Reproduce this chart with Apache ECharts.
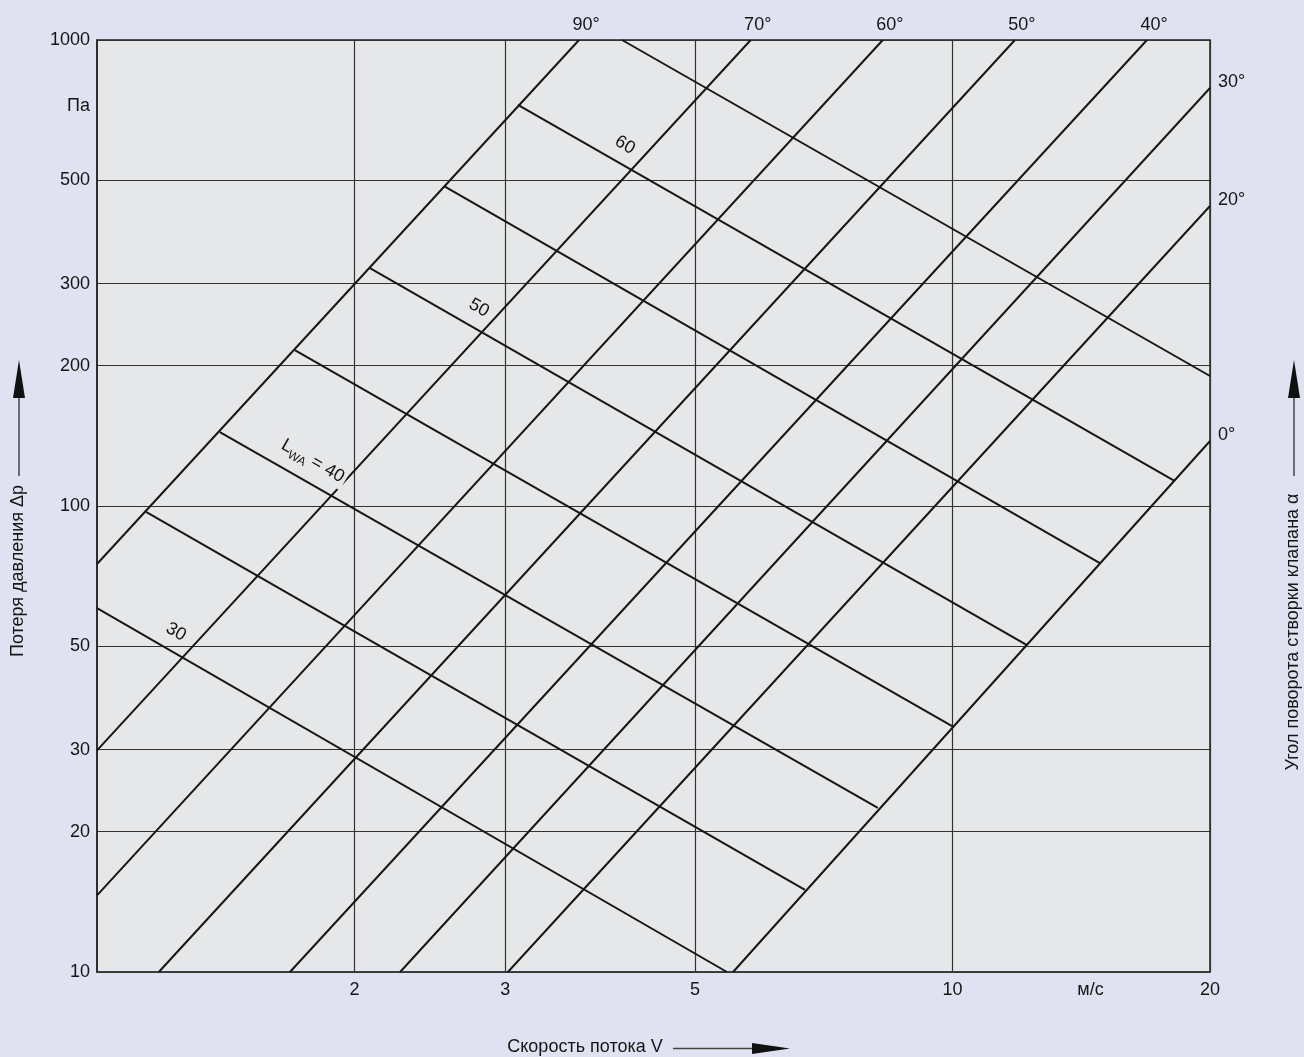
<!DOCTYPE html>
<html>
<head>
<meta charset="utf-8">
<script src="https://cdn.jsdelivr.net/npm/echarts@6/dist/echarts.min.js"></script>
<style>
html,body{margin:0;padding:0;background:#e0e2f1;}
#c{width:1304px;height:1057px;}
</style>
</head>
<body>
<div id="c"></div>
<script>
// ---- axis ticks ----
const xTickValues = [2, 3, 5, 10, 20];
const xUnitValue = 14.5;
const xUnitLabel = 'м/с';
const yTickValues = [10, 20, 30, 50, 100, 200, 300, 500, 1000];
const yUnitValue = 720;
const yUnitLabel = 'Па';

// ---- damper blade angle lines (Δp ~ V²) ----
const angleNames  = ['90°', '70°', '60°', '50°', '40°', '30°', '20°', '0°'];
const angleStartV = [1,     1,     1,     1.181, 1.681, 2.261, 3.022, 5.54];
const angleStartP = [75.1,  29.9,  14.6,  10,    10,    10,    10,    10];
const angleEndV   = [3.66,  5.81,  8.29,  11.83, 16.88, 20,    20,    20];
const angleEndP   = [1000,  1000,  1000,  1000,  1000,  788.9, 440.4, 137.9];

// ---- sound power level lines L_WA ----
const lwaLevels = [30,    35,    40,    45,    50,    55,    60,    65];
const lwaStartV = [1,     1.141, 1.392, 1.703, 2.085, 2.545, 3.105, 4.109];
const lwaStartP = [60.4,  97.1,  144.1, 216.1, 324.1, 486.0, 725.4, 1000];
const lwaEndV   = [5.45,  6.724, 8.18,  9.99,  12.22, 14.87, 18.20, 20];
const lwaEndP   = [10,    15.0,  22.5,  33.7,  50.3,  75.4,  113.1, 190.1];

// ---- L_WA labels ----
const lwaLabelText = ['30', '{l|L}{s|WA}{l| = 40}', '50', '60'];
const lwaLabelV    = [1.237, 1.788, 2.796, 4.142];
const lwaLabelP    = [53.7,  124.9, 266,   595];

const FONT = '"Liberation Sans", Arial, Helvetica, sans-serif';
const TXT = '#151515';
const LINE = '#161616';
const PLOT_BG = '#e6e7e9';

const chart = echarts.init(document.getElementById('c'), null, {renderer: 'canvas'});

const series = [];
angleNames.forEach((n, i) => {
  series.push({
    type: 'line', name: 'a' + n, silent: true, animation: false, z: 3,
    symbol: 'none',
    lineStyle: {color: LINE, width: 2},
    data: [[angleStartV[i], angleStartP[i]], [angleEndV[i], angleEndP[i]]]
  });
});
lwaLevels.forEach((lv, i) => {
  series.push({
    type: 'line', name: 'L' + lv, silent: true, animation: false, z: 3,
    symbol: 'none',
    lineStyle: {color: LINE, width: 2},
    data: [[lwaStartV[i], lwaStartP[i]], [lwaEndV[i], lwaEndP[i]]]
  });
});
// angle labels at line ends
series.push({
  type: 'scatter', silent: true, animation: false, z: 6,
  symbol: 'circle', symbolSize: 0.1, itemStyle: {color: PLOT_BG, opacity: 1},
  data: angleNames.map((n, i) => {
    const onTop = angleEndP[i] >= 1000;
    return {
      value: [angleEndV[i], angleEndP[i]],
      label: onTop
        ? {show: true, formatter: n, position: 'top', distance: 6, offset: [7, 0]}
        : {show: true, formatter: n, position: 'right', distance: 8, offset: [0, -6]}
    };
  }),
  label: {fontFamily: FONT, fontSize: 18, color: TXT, opacity: 1}
});
// L_WA labels
series.push({
  type: 'scatter', silent: true, animation: false, z: 7,
  symbol: 'circle', symbolSize: 0.1, itemStyle: {color: PLOT_BG, opacity: 1},
  data: lwaLabelV.map((v, i) => ({
    value: [v, lwaLabelP[i]],
    label: {
      formatter: lwaLabelText[i],
      backgroundColor: i === 1 ? PLOT_BG : 'transparent',
      padding: i === 1 ? [0, 3, 0, 3] : 0
    }
  })),
  label: {
    show: true, position: 'inside', rotate: -30, opacity: 1,
    fontFamily: FONT, fontSize: 18, color: TXT,
    rich: {
      l: {fontFamily: FONT, fontSize: 18, color: TXT, lineHeight: 24},
      s: {fontFamily: FONT, fontSize: 12, color: TXT, lineHeight: 12, verticalAlign: 'bottom'}
    }
  }
});

const option = {
  backgroundColor: '#e0e2f1',
  animation: false,
  grid: {
    left: 97, top: 40, right: 94, bottom: 85,
    containLabel: false, outerBoundsMode: 'none',
    show: true, backgroundColor: PLOT_BG, borderColor: '#222', borderWidth: 1.5
  },
  xAxis: {
    type: 'log', logBase: 10, min: 1, max: 20,
    axisLine: {show: true, lineStyle: {color: '#3a3a3a', width: 1.5}},
    axisTick: {show: false, customValues: xTickValues},
    splitLine: {show: true, lineStyle: {color: '#333', width: 1.2}},
    axisLabel: {
      customValues: xTickValues.concat([xUnitValue]),
      margin: 9, fontFamily: FONT, fontSize: 18, color: TXT,
      formatter: v => (Math.abs(v - xUnitValue) < 0.5 ? xUnitLabel : String(Math.round(v)))
    }
  },
  yAxis: {
    type: 'log', logBase: 10, min: 10, max: 1000,
    axisLine: {show: true, lineStyle: {color: '#222', width: 1.5}},
    axisTick: {show: false, customValues: yTickValues},
    splitLine: {show: true, lineStyle: {color: '#333', width: 1.2}},
    axisLabel: {
      customValues: yTickValues.concat([yUnitValue]),
      margin: 7, fontFamily: FONT, fontSize: 18, color: TXT,
      formatter: v => (Math.abs(v - yUnitValue) < 5 ? yUnitLabel : String(Math.round(v)))
    }
  },
  graphic: [
    {type: 'text', x: 18, y: 571, rotation: Math.PI / 2,
     style: {text: 'Потеря давления Δp', font: '18px ' + FONT, fill: TXT, align: 'center', verticalAlign: 'middle'}},
    {type: 'line', shape: {x1: 19, y1: 476, x2: 19, y2: 396}, style: {stroke: '#444', lineWidth: 1.5}},
    {type: 'polygon', shape: {points: [[13, 398], [25, 398], [19, 360]]}, style: {fill: '#111'}},

    {type: 'text', x: 1293, y: 632, rotation: Math.PI / 2,
     style: {text: 'Угол поворота створки клапана α', font: '18px ' + FONT, fill: TXT, align: 'center', verticalAlign: 'middle'}},
    {type: 'line', shape: {x1: 1294, y1: 476, x2: 1294, y2: 396}, style: {stroke: '#444', lineWidth: 1.5}},
    {type: 'polygon', shape: {points: [[1288, 398], [1300, 398], [1294, 360]]}, style: {fill: '#111'}},

    {type: 'text', x: 585, y: 1047,
     style: {text: 'Скорость потока V', font: '18px ' + FONT, fill: TXT, align: 'center', verticalAlign: 'middle'}},
    {type: 'line', shape: {x1: 673, y1: 1048.5, x2: 755, y2: 1048.5}, style: {stroke: '#444', lineWidth: 1.5}},
    {type: 'polygon', shape: {points: [[752, 1043], [752, 1054], [790, 1048.5]]}, style: {fill: '#111'}}
  ],
  series: series
};
chart.setOption(option);
</script>
</body>
</html>
